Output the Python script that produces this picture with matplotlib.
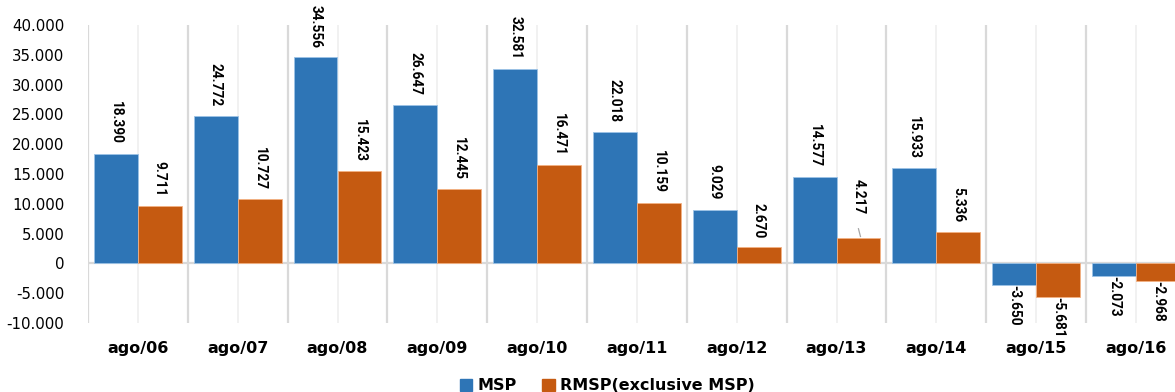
import numpy as np
import matplotlib
matplotlib.use("Agg")
import matplotlib.pyplot as plt
from matplotlib import font_manager as fm
from matplotlib.patches import Patch
from matplotlib.ticker import FuncFormatter, FixedLocator

# dados
categorias = ["ago/06", "ago/07", "ago/08", "ago/09", "ago/10", "ago/11",
              "ago/12", "ago/13", "ago/14", "ago/15", "ago/16"]
msp = [18390, 24772, 34556, 26647, 32581, 22018, 9029, 14577, 15933, -3650, -2073]
rmsp = [9711, 10727, 15423, 12445, 16471, 10159, 2670, 4217, 5336, -5681, -2968]
series_nomes = ["MSP", "RMSP(exclusive MSP)"]
yticks = [-10000, -5000, 0, 5000, 10000, 15000, 20000, 25000, 30000, 35000, 40000]

azul = "#2E75B6"
laranja = "#C55A11"

plt.rcParams['font.family'] = ['DejaVu Sans']


def tem_fonte(nome):
    try:
        fm.findfont(fm.FontProperties(family=nome), fallback_to_default=False)
        return True
    except ValueError:
        return False


# fonte estreita para os rotulos (tipo Calibri)
if tem_fonte('Liberation Sans Narrow'):
    rotulo_fonte, rotulo_tam = 'Liberation Sans Narrow', 12
elif tem_fonte('Roboto'):
    rotulo_fonte, rotulo_tam = 'Roboto', 9.8
else:
    rotulo_fonte, rotulo_tam = 'Liberation Sans', 9.8

fig = plt.figure(figsize=(11.75, 3.92), dpi=100)
ax = fig.add_axes([88/1175, 1 - 323/392, 11*99.8/1175, (323-25)/392])

x = np.arange(len(categorias))
w = 0.44

# linhas de grade verticais (limites e centros das categorias)
for b in np.arange(-0.5, len(categorias) + 0.5, 1):
    ax.axvline(b, color="#d9d9d9", lw=1.6, zorder=0)
for c in x:
    ax.axvline(c, color="#efefef", lw=1.2, zorder=0)
ax.axhline(0, color="#d9d9d9", lw=1.6, zorder=1)

b1 = ax.bar(x - w/2, msp, w, color=azul, edgecolor="#9dc3e6", lw=0.6, zorder=2)
b2 = ax.bar(x + w/2, rmsp, w, color=laranja, edgecolor="#f4b183", lw=0.6, zorder=2)


def fmt(v, pos=None):
    return f"{int(v):,}".replace(",", ".")


# rotulos de dados
for bars, vals, k in [(b1, msp, 0), (b2, rmsp, 1)]:
    for i, (r, v) in enumerate(zip(bars, vals)):
        cx = r.get_x() + r.get_width()/2
        extra = 10 if (k == 1 and i == 7) else 0
        if v >= 0:
            ax.annotate(fmt(v), (cx, v), xytext=(0, 7 + extra), textcoords="offset points",
                        rotation=270, ha="center", va="bottom", fontsize=rotulo_tam,
                        fontweight="bold", family=rotulo_fonte, zorder=5)
            if extra:
                # linha de chamada
                ax.plot([cx + 0.02, cx], [v + 300, v + 1600], color="#a6a6a6", lw=0.9, zorder=4)
        else:
            ax.annotate(fmt(v), (cx, v), xytext=(0, 0), textcoords="offset points",
                        rotation=270, ha="center", va="top", fontsize=rotulo_tam,
                        fontweight="bold", family=rotulo_fonte, zorder=5,
                        annotation_clip=False)

ax.set_xlim(-0.5, len(categorias) - 0.5)
ax.set_ylim(-10000, 40000)
ax.yaxis.set_major_locator(FixedLocator(yticks))
ax.yaxis.set_major_formatter(FuncFormatter(fmt))
ax.set_xticks(x)
ax.set_xticklabels(categorias, fontweight="bold", fontsize=11.5)
ax.tick_params(axis="y", length=0, pad=17, labelsize=10.8, colors="#000000")
ax.tick_params(axis="x", length=0, pad=13)
for s in ax.spines.values():
    s.set_visible(False)

handles = [Patch(color=azul), Patch(color=laranja)]
fig.legend(handles, series_nomes, loc="center", bbox_to_anchor=(607/1175, 1 - 386/392),
           ncol=2, frameon=False, prop={"weight": "bold", "size": 11.5},
           handlelength=0.8, handleheight=0.8, handletextpad=0.3, columnspacing=1.6)

fig.savefig("out.png", dpi=100)
